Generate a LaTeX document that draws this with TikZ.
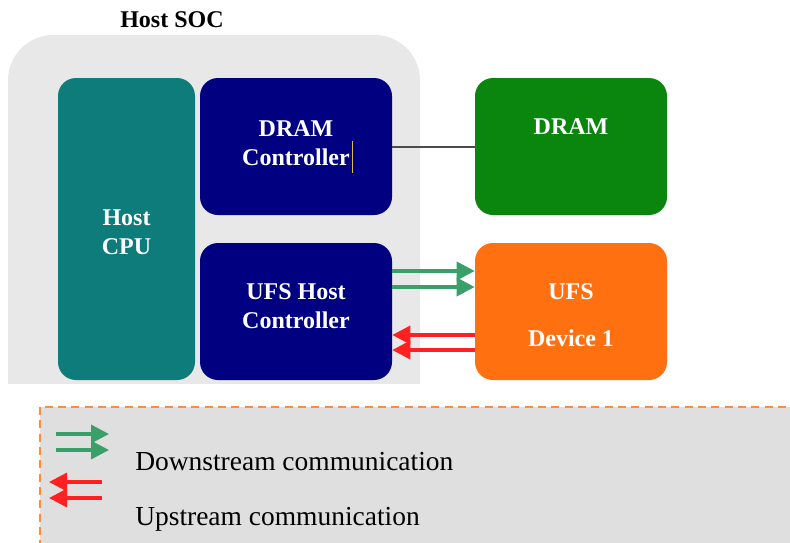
\documentclass[tikz,border=0pt]{standalone}
\usepackage{fontspec}
\setmainfont{Liberation Serif}
\usetikzlibrary{arrows.meta}
\definecolor{socgray}{HTML}{E8E8E8}
\definecolor{leggray}{HTML}{DFDFDF}
\definecolor{cputeal}{HTML}{0E7C7B}
\definecolor{ctlnavy}{HTML}{000080}
\definecolor{dramgreen}{HTML}{0A860F}
\definecolor{ufsorange}{HTML}{FF7010}
\definecolor{downgreen}{HTML}{3AA06A}
\definecolor{upred}{HTML}{FF2020}
\definecolor{dashorange}{HTML}{FF8C3A}
\definecolor{cursorgold}{HTML}{D8BC50}
\tikzset{
  block/.style={draw=none, rounded corners=13.5pt, minimum width=#1},
  block/.default=144pt,
  boxtext/.style={text=white, font=\fontsize{18}{21.5}\selectfont\bfseries, align=center, inner sep=0pt},
  down/.style={draw=downgreen, line width=2.6pt, -{Triangle[length=13.5pt,width=13.5pt]}},
  up/.style={draw=upred, line width=2.6pt, -{Triangle[length=13.5pt,width=13.5pt]}},
  legtext/.style={font=\fontsize{20.6}{24}\selectfont, anchor=base west, inner sep=0pt}
}
\begin{document}
\begin{tikzpicture}[x=0.75pt, y=-0.75pt]
\useasboundingbox (0,0) rectangle (790,543);

% Host SOC background, lower edge cut flat
\begin{scope}
  \clip (0,0) rectangle (790,383);
  \fill[socgray, rounded corners=34pt] (8,35) rectangle (420,430);
\end{scope}
\node[font=\fontsize{18}{21.5}\selectfont\bfseries, inner sep=0pt] (soc) at (172,20) {Host SOC};

% blocks
\node[block=102.75pt, fill=cputeal, minimum height=226.5pt] (cpu) at (126.5,229) {};
\node[block, fill=ctlnavy, minimum height=102.75pt] (dctl) at (296,146.5) {};
\node[block, fill=ctlnavy, minimum height=102.75pt] (uctl) at (296,311.5) {};
\node[block, fill=dramgreen, minimum height=102.75pt] (dram) at (571,146.5) {};
\node[block, fill=ufsorange, minimum height=102.75pt] (ufs) at (571,311.5) {};

% block labels
\node[boxtext] (cpulbl) at (126.5,232) {Host\\CPU};
\node[boxtext] (dctllbl) at (296,143) {DRAM\\Controller};
\node[boxtext] (uctllbl) at (296,306) {UFS Host\\Controller};
\node[boxtext] (dramlbl) at (571,127) {DRAM};
\node[boxtext] (ufslbl) at (571,292) {UFS};
\node[boxtext] (devlbl) at (571,338) {Device 1};

% text cursor after "Controller"
\draw[cursorgold, line width=1.1pt] (352.5,141) -- (352.5,173);

% memory bus
\draw[line width=1.6pt, draw=black!70] (dctl.east |- 0,147) -- (dram.west |- 0,147);

% downstream / upstream lanes
\draw[down] (uctl.east |- 0,271) -- (ufs.west |- 0,271);
\draw[down] (uctl.east |- 0,287) -- (ufs.west |- 0,287);
\draw[up] (ufs.west |- 0,335) -- (uctl.east |- 0,335);
\draw[up] (ufs.west |- 0,350) -- (uctl.east |- 0,350);

% legend
\draw[draw=dashorange, fill=leggray, line width=1.2pt, dash pattern=on 6pt off 4pt] (40,407) rectangle (800,560);
\coordinate (ld1a) at (56,434);  \coordinate (ld1b) at (109,434);
\coordinate (ld2a) at (56,450);  \coordinate (ld2b) at (109,450);
\coordinate (lu1a) at (102,482); \coordinate (lu1b) at (49,482);
\coordinate (lu2a) at (102,498); \coordinate (lu2b) at (49,498);
\draw[down] (ld1a) -- (ld1b);
\draw[down] (ld2a) -- (ld2b);
\draw[up] (lu1a) -- (lu1b);
\draw[up] (lu2a) -- (lu2b);
\node[legtext] (downtxt) at (135,470) {Downstream communication};
\node[legtext] (uptxt) at (135,525) {Upstream communication};
\end{tikzpicture}
\end{document}
